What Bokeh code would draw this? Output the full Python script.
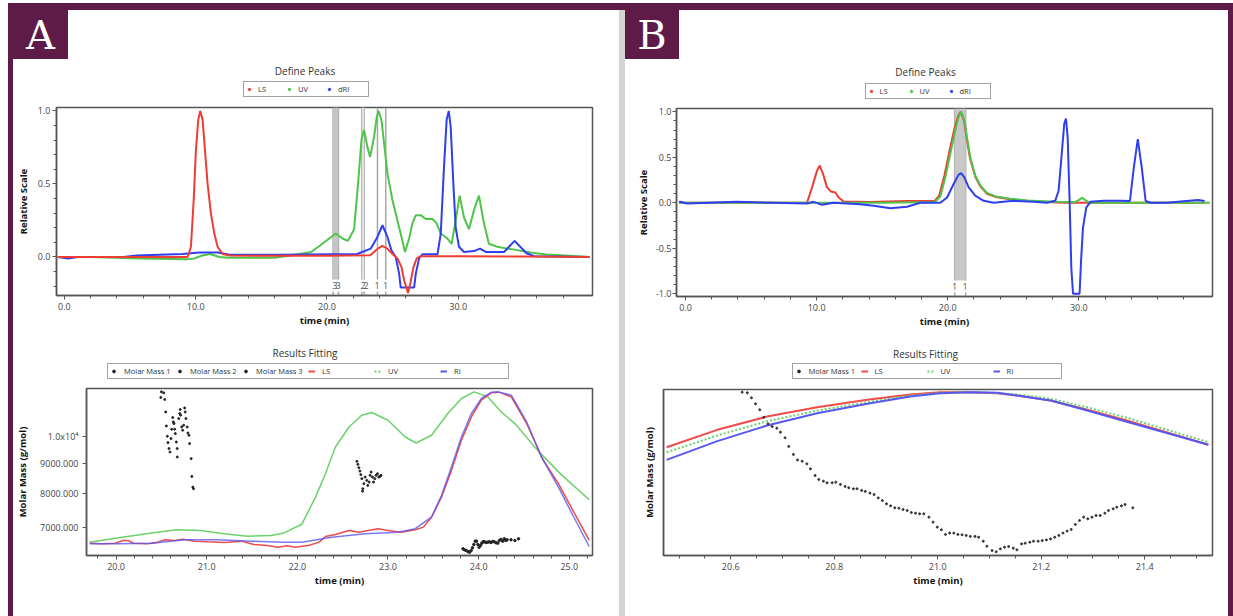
from bokeh.plotting import figure
from bokeh.layouts import column, row
from bokeh.models import (Spacer, Div, Legend, LegendItem, Label, BoxAnnotation,
                          FixedTicker, PrintfTickFormatter, Range1d)
from bokeh.embed import file_html
from bokeh.resources import INLINE

# ---------------- data: panel A, "Define Peaks" (relative scale) ----------------
lsA_t = [-0.5, 5.0, 9.0, 9.39, 9.64, 9.85, 10.02, 10.2, 10.35, 10.53, 10.71, 10.91, 11.16, 11.42, 11.67,
         12.05, 12.6, 16.0, 20.0, 23.3, 23.85, 24.23, 24.61, 24.99, 25.37, 25.68, 25.88, 26.18, 26.38,
         26.59, 26.84, 27.14, 30.0, 35.0, 40.0]
lsA_v = [0.0, 0.0, 0.0, 0.0, 0.07, 0.39, 0.73, 0.94, 1.0, 0.94, 0.73, 0.50, 0.30, 0.16, 0.07,
         0.02, 0.01, 0.008, 0.008, 0.012, 0.055, 0.075, 0.057, 0.02, -0.01, -0.07, -0.16, -0.247, -0.17,
         -0.07, -0.01, 0.005, 0.005, 0.003, 0.0]

driA_t = [-0.5, 0.3, 1.0, 4.5, 5.5, 9.0, 10.3, 11.7, 12.6, 16.3, 20.3, 22.3, 23.34, 23.85, 24.23,
          24.61, 24.91, 25.24, 25.5, 25.62, 26.64, 26.77, 27.02, 27.27, 28.42, 28.67, 28.92, 29.12,
          29.28, 29.43, 29.63, 29.81, 30.06, 30.44, 31.2, 31.66, 32.1, 33.49, 34.3, 35.2, 35.8, 40.0]
driA_v = [0.0, -0.01, 0.0, 0.0, 0.01, 0.02, 0.03, 0.03, 0.015, 0.015, 0.018, 0.02, 0.057, 0.137, 0.217,
          0.137, 0.046, 0.0, -0.114, -0.21, -0.21, -0.114, -0.01, 0.018, 0.018, 0.16, 0.62, 0.94,
          1.0, 0.89, 0.5, 0.2, 0.07, 0.034, 0.04, 0.057, 0.034, 0.034, 0.11, 0.025, 0.005, 0.0]

uvA_t = [-0.5, 2.0, 5.7, 9.4, 9.9, 10.5, 11.1, 11.8, 12.5, 16.0, 17.2, 18.8, 19.5, 20.17, 20.68,
         21.19, 21.6, 22.07, 22.37, 22.63, 22.83, 23.09, 23.29, 23.59, 23.8, 23.93, 24.15, 24.35, 24.61,
         24.99, 25.37, 25.68, 25.95, 26.26, 26.51, 26.77, 27.15, 27.53, 28.04, 28.36, 28.67, 29.18,
         29.5, 29.81, 30.11, 30.44, 30.82, 31.2, 31.58, 31.96, 32.34, 32.98, 33.74, 34.3, 35.5, 36.7,
         38.5, 40.0]
uvA_v = [0.0, 0.0, -0.01, -0.015, -0.01, 0.01, 0.02, 0.0, -0.005, -0.005, 0.01, 0.034, 0.08, 0.126, 0.16,
         0.126, 0.11, 0.19, 0.50, 0.80, 0.87, 0.75, 0.685, 0.82, 0.96, 1.0, 0.94, 0.78, 0.57,
         0.39, 0.25, 0.137, 0.034, 0.126, 0.23, 0.286, 0.286, 0.26, 0.26, 0.23, 0.16, 0.126,
         0.09, 0.25, 0.42, 0.27, 0.19, 0.32, 0.42, 0.23, 0.09, 0.07, 0.057, 0.05, 0.03, 0.016,
         0.008, 0.0]

peakA_times = [20.47, 20.88, 22.66, 22.83, 23.85, 24.48]
peakA_label_t = [20.60, 20.85, 22.76, 22.98, 23.82, 24.46]
peakA_labels = ["3", "3", "2", "2", "1", "1"]

# ---------------- data: panel A, "Results Fitting" (molar mass, g/mol) ----------------
lsAb_t = [19.71, 19.84, 19.99, 20.08, 20.13, 20.19, 20.35, 20.46, 20.54, 20.65, 20.74, 20.87, 21.01,
          21.2, 21.38, 21.52, 21.67, 21.78, 21.89, 21.98, 22.13, 22.24, 22.31, 22.42, 22.57, 22.68,
          22.78, 22.89, 23.0, 23.15, 23.3, 23.39, 23.48, 23.59, 23.7, 23.81, 23.92, 24.03, 24.14,
          24.23, 24.36, 24.53, 24.70, 24.88, 25.05, 25.22]
lsAb_m = [6591, 6575, 6591, 6661, 6661, 6591, 6575, 6617, 6679, 6661, 6695, 6643, 6627,
          6609, 6643, 6557, 6531, 6487, 6524, 6487, 6539, 6617, 6766, 6820, 6928, 6882,
          6928, 6975, 6928, 6882, 6947, 7019, 7297, 7896, 8771, 9871, 10818, 11554, 11891,
          11924, 11706, 10541, 9200, 8324, 7442, 6661]

riAb_t = [19.71, 20.02, 20.39, 20.76, 21.12, 21.49, 21.85, 22.05, 22.38, 22.75, 23.11, 23.3, 23.48,
          23.59, 23.7, 23.81, 23.92, 24.03, 24.14, 24.21, 24.36, 24.53, 24.70, 24.88, 25.05, 25.22]
riAb_m = [6575, 6575, 6591, 6679, 6679, 6643, 6617, 6617, 6748, 6838, 6882, 6975, 7297,
          7949, 8885, 10000, 10965, 11632, 11924, 11938, 11784, 10608, 9200, 8213, 7297, 6505]

uvAb_t = [19.71, 20.07, 20.41, 20.67, 20.93, 21.19, 21.45, 21.71, 21.84, 22.05, 22.2, 22.31, 22.42,
          22.57, 22.71, 22.82, 23.0, 23.19, 23.31, 23.48, 23.66, 23.81, 23.95, 24.1, 24.25, 24.40,
          24.66, 24.92, 25.22]
uvAb_m = [6617, 6748, 6865, 6947, 6928, 6838, 6774, 6793, 6850, 7100, 7896, 8658, 9614,
          10401, 10891, 11007, 10680, 10000, 9767, 10067, 10965, 11632, 11938, 11706, 11034, 10541,
          9450, 8600, 7815]

mm1_t = [20.500, 20.526, 20.493, 20.537, 20.548, 20.555, 20.566, 20.573, 20.584, 20.595, 20.606,
         20.614, 20.625, 20.632, 20.639, 20.647, 20.654, 20.665, 20.675, 20.675, 20.691, 20.702,
         20.708, 20.713, 20.724, 20.735, 20.746, 20.757, 20.763, 20.771, 20.785, 20.793, 20.804,
         20.811, 20.829, 20.836, 20.847, 20.855]
mm1_m = [11938, 11891, 11678, 11586, 11034, 10443, 10028, 9782, 9556, 9427, 9937,
         10308, 10793, 10608, 10541, 10308, 10135, 9805, 9556, 9243, 10750, 10965,
         11138, 10891, 10401, 10267, 10471, 11208, 11034, 10750, 10401, 10159, 10067,
         9743, 9185, 8566, 8213, 8162]

mm2_t = [22.657, 22.668, 22.679, 22.690, 22.700, 22.711, 22.722, 22.719, 22.734, 22.748, 22.766,
         22.777, 22.792, 22.803, 22.814, 22.829, 22.840, 22.854, 22.868, 22.884, 22.898, 22.912, 22.923]
mm2_m = [9088, 8981, 8864, 8747, 8625, 8490, 8162, 8084, 8324, 8543, 8433,
         8268, 8377, 8601, 8714, 8543, 8377, 8490, 8601, 8658, 8543, 8566, 8601]

mm3_t = [23.827, 23.844, 23.863, 23.882, 23.899, 23.918, 23.932, 23.947, 23.962, 23.976, 23.991,
         24.005, 24.020, 24.035, 24.049, 24.064, 24.082, 24.101, 24.118, 24.137, 24.156, 24.173,
         24.192, 24.211, 24.228, 24.247, 24.265, 24.283, 24.30, 24.314, 24.357, 24.40, 24.44]
mm3_m = [6446, 6421, 6403, 6378, 6360, 6403, 6472, 6557, 6643, 6643, 6557,
         6487, 6531, 6591, 6627, 6627, 6609, 6617, 6627, 6609, 6635, 6627,
         6601, 6591, 6661, 6688, 6643, 6705, 6661, 6679, 6679, 6661, 6705]

# ---------------- data: panel B, "Define Peaks" ----------------
lsB_t = [-0.5, 9.27, 9.65, 10.03, 10.23, 10.49, 10.79, 11.1, 11.43, 11.68, 12.06, 14.0, 16.9, 18.5,
         19.0, 19.35, 19.75, 20.12, 20.5, 20.78, 21.0, 21.25, 21.45, 21.7, 22.1, 22.49, 23.0, 23.76,
         24.78, 26.05, 27.3, 28.3, 29.0, 35.0, 39.5]
lsB_v = [0.0, 0.0, 0.17, 0.354, 0.41, 0.318, 0.17, 0.125, 0.114, 0.059, 0.014, 0.01, 0.02, 0.02,
         0.02, 0.08, 0.3, 0.56, 0.81, 0.95, 1.0, 0.9, 0.71, 0.49, 0.29, 0.18, 0.1, 0.06,
         0.04, 0.022, 0.012, 0.004, 0.0, 0.0, 0.0]

uvB_t = [-0.5, 15.0, 19.0, 19.44, 19.82, 20.2, 20.58, 20.83, 21.04, 21.27, 21.47, 21.72, 22.1, 22.49,
         23.0, 23.76, 24.78, 26.05, 27.3, 28.3, 29.7, 30.0, 30.25, 30.5, 30.8, 35.0, 40.0]
uvB_v = [0.0, 0.0, 0.01, 0.07, 0.28, 0.54, 0.80, 0.945, 1.0, 0.91, 0.72, 0.50, 0.30, 0.19,
         0.11, 0.066, 0.044, 0.026, 0.018, 0.011, 0.008, 0.03, 0.055, 0.03, 0.0, 0.0, 0.0]

driB_t = [-0.5, -0.4, 0.11, 3.93, 9.27, 9.77, 10.41, 11.3, 13.33, 14.35, 15.62, 16.9, 17.91, 19.44,
          19.95, 20.45, 20.83, 21.04, 21.27, 21.6, 22.1, 22.74, 23.5, 25.0, 26.55, 27.57, 28.2, 28.46,
          28.72, 28.89, 29.02, 29.15, 29.3, 29.43, 29.56, 30.06, 30.17, 30.32, 30.57, 30.88, 31.89,
          33.17, 33.9, 34.2, 34.5, 34.8, 35.1, 35.5, 36.7, 38.2, 39.1, 39.6]
driB_v = [0.01, 0.011, -0.008, 0.011, -0.008, 0.011, -0.022, 0.0, -0.015, -0.033, -0.059, -0.044, 0.0, 0.0,
          0.059, 0.207, 0.31, 0.325, 0.28, 0.17, 0.078, 0.022, 0.0, 0.022, 0.011, 0.0, 0.022, 0.133,
          0.576, 0.87, 0.927, 0.723, 0.022, -0.716, -1.0, -1.0, -0.642, -0.273, -0.052, 0.011, 0.022,
          0.022, 0.02, 0.39, 0.70, 0.39, 0.02, 0.0, 0.0, 0.02, 0.03, 0.02]

peakB_times = [20.53, 21.37]
peakB_label_t = [20.53, 21.33]
peakB_labels = ["1", "1"]

# ---------------- data: panel B, "Results Fitting" (relative molar-mass scale) ----------------
lsBb_t = [20.476, 20.574, 20.67, 20.767, 20.864, 20.947, 21.005, 21.057, 21.115, 21.153, 21.218, 21.282, 21.362, 21.523]
lsBb_v = [0.652, 0.757, 0.837, 0.893, 0.938, 0.97, 0.984, 0.984, 0.978, 0.964, 0.934, 0.884, 0.817, 0.667]
uvBb_t = [20.476, 20.574, 20.67, 20.767, 20.864, 20.947, 21.005, 21.089, 21.153, 21.218, 21.282, 21.362, 21.523]
uvBb_v = [0.622, 0.723, 0.809, 0.873, 0.923, 0.964, 0.98, 0.984, 0.97, 0.944, 0.898, 0.833, 0.683]
riBb_t = [20.476, 20.574, 20.67, 20.767, 20.864, 20.947, 21.005, 21.063, 21.115, 21.153, 21.218, 21.282, 21.362, 21.523]
riBb_v = [0.576, 0.689, 0.783, 0.857, 0.914, 0.958, 0.978, 0.984, 0.98, 0.964, 0.934, 0.88, 0.809, 0.667]

mmB_points = [
    (20.622, 0.984), (20.632, 0.980), (20.640, 0.950), (20.648, 0.914), (20.656, 0.878), (20.664, 0.833),
    (20.672, 0.793), (20.680, 0.777), (20.689, 0.767), (20.696, 0.743), (20.705, 0.709), (20.712, 0.657),
    (20.721, 0.609), (20.729, 0.576), (20.738, 0.568), (20.747, 0.552), (20.754, 0.522), (20.763, 0.482),
    (20.770, 0.458), (20.779, 0.448), (20.786, 0.438), (20.796, 0.438), (20.803, 0.442), (20.812, 0.428),
    (20.821, 0.416), (20.828, 0.408), (20.837, 0.402), (20.844, 0.402), (20.853, 0.392), (20.860, 0.386),
    (20.869, 0.376), (20.877, 0.367), (20.885, 0.347), (20.893, 0.331), (20.901, 0.311), (20.909, 0.299),
    (20.917, 0.287), (20.925, 0.285), (20.933, 0.277), (20.941, 0.271), (20.949, 0.259), (20.957, 0.255),
    (20.965, 0.251), (20.973, 0.251), (20.983, 0.231), (20.991, 0.201), (20.999, 0.171), (21.007, 0.155),
    (21.015, 0.127), (21.023, 0.135), (21.031, 0.135), (21.039, 0.127), (21.047, 0.125), (21.055, 0.121),
    (21.063, 0.115), (21.072, 0.115), (21.079, 0.110), (21.088, 0.086), (21.095, 0.056), (21.105, 0.030),
    (21.113, 0.022), (21.121, 0.040), (21.129, 0.050), (21.137, 0.054), (21.146, 0.044), (21.153, 0.034),
    (21.162, 0.070), (21.169, 0.074), (21.178, 0.080), (21.185, 0.086), (21.194, 0.086), (21.202, 0.090),
    (21.210, 0.094), (21.218, 0.100), (21.226, 0.110), (21.234, 0.121), (21.242, 0.135), (21.250, 0.147),
    (21.258, 0.157), (21.266, 0.187), (21.274, 0.211), (21.282, 0.231), (21.290, 0.221), (21.298, 0.231),
    (21.306, 0.241), (21.314, 0.241), (21.323, 0.255), (21.330, 0.271), (21.339, 0.281), (21.346, 0.291),
    (21.355, 0.299), (21.362, 0.307), (21.377, 0.287)]
mmB_t = [p[0] for p in mmB_points]
mmB_v = [p[1] for p in mmB_points]

# ---------------- styling ----------------
PURPLE = "#5e1b47"
SEP = "#d4d4d4"
FONT = "Open Sans"
RED, GREEN, BLUE = "#ef3d33", "#4ec449", "#2f3ff0"
RED2, GREEN2, BLUE2 = "#ef4b4b", "#6ad26a", "#5858f0"
AX = "#555555"
MARK = "#a8a8a8"


def make_fig(w, h, mbl, mbr, mbt, mbb, xr, yr, y_type="linear"):
    p = figure(width=w, height=h, x_range=Range1d(*xr), y_range=Range1d(*yr), y_axis_type=y_type,
               output_backend="svg", toolbar_location=None, title=None,
               min_border_left=mbl, min_border_right=mbr, min_border_top=mbt, min_border_bottom=mbb)
    p.grid.visible = False
    p.outline_line_color = AX
    p.outline_line_width = 1.5
    p.background_fill_color = "white"
    p.border_fill_color = "white"
    for ax in (p.xaxis[0], p.yaxis[0]):
        ax.axis_line_color = AX
        ax.axis_line_width = 1.5
        ax.major_tick_line_color = AX
        ax.minor_tick_line_color = AX
        ax.major_tick_in = 0
        ax.major_tick_out = 4
        ax.minor_tick_in = 0
        ax.minor_tick_out = 3
        ax.major_label_text_font = FONT
        ax.major_label_text_font_size = "9px"
        ax.major_label_text_color = "#444444"
        ax.axis_label_text_font = FONT
        ax.axis_label_text_font_size = "9.5px"
        ax.axis_label_text_font_style = "bold"
        ax.axis_label_text_color = "#111111"
    p.xaxis.axis_label = "time (min)"
    p.xaxis.major_label_standoff = 3
    p.xaxis.axis_label_standoff = 1
    return p


def make_header(w, h, title, tx, ty, spec, lx, ly, gw, standoff, lw):
    """A strip above a chart holding its centred title and its framed legend.
    The legend keys repeat the chart's series; the strip's x range lies far
    away from the data so those copies stay out of sight."""
    hf = figure(width=w, height=h, x_range=Range1d(-5000, -5000 + w), y_range=Range1d(0, h),
                output_backend="svg", toolbar_location=None, title=None,
                x_axis_location=None, y_axis_location=None,
                min_border_left=0, min_border_right=0, min_border_top=0, min_border_bottom=0)
    hf.grid.visible = False
    hf.outline_line_color = None
    hf.background_fill_color = "white"
    hf.border_fill_color = "white"
    items = []
    for label, kind, color, dash, xs, ys in spec:
        if kind == "dot":
            r = hf.scatter(xs, ys, size=3, color=color)
        else:
            r = hf.line(xs, ys, line_color=color, line_width=2, line_dash=dash)
        items.append(LegendItem(label=label, renderers=[r]))
    hf.add_layout(Label(x=tx, y=ty, x_units="screen", y_units="screen", text=title,
                        text_align="center", text_baseline="middle",
                        text_font=FONT, text_font_size="10px", text_color="#333333"))
    hf.add_layout(Legend(items=items, location=(lx, ly), orientation="horizontal",
                         glyph_width=gw, glyph_height=10, label_standoff=standoff,
                         label_width=lw, label_height=10, spacing=0, padding=2, margin=0,
                         label_text_font=FONT, label_text_font_size="7.5px", label_text_color="#333333",
                         border_line_color="#444444", border_line_width=1.5, background_fill_alpha=1.0))
    return hf


def add_peaks(p, times, label_t, labels, frame_h):
    """Peak limit markers: grey verticals with a small gap where the peak number sits."""
    y0, y1 = p.y_range.start, p.y_range.end
    upp = (y1 - y0) / frame_h
    gap_lo, gap_hi = y0 + 4 * upp, y0 + 16 * upp
    n = len(times)
    p.segment(x0=times, x1=times, y0=[gap_hi] * n, y1=[y1] * n, line_color=MARK, line_width=1.5, level="underlay")
    p.segment(x0=times, x1=times, y0=[y0] * n, y1=[gap_lo] * n, line_color=MARK, line_width=1.5, level="underlay")
    for t, lab in zip(label_t, labels):
        p.add_layout(Label(x=t, y=10, x_units="data", y_units="screen", text=lab,
                           text_align="center", text_baseline="middle", text_font=FONT,
                           text_font_size="9px", text_color="#555555"))
    return gap_hi


fmt1 = "%.1f"

# ---------------- A top ----------------
specA1 = [("LS", "dot", RED, "solid", lsA_t, lsA_v), ("UV", "dot", GREEN, "solid", uvA_t, uvA_v),
          ("dRI", "dot", BLUE, "solid", driA_t, driA_v)]
hA1 = make_header(606, 44, "Define Peaks", 291.5, 33, specA1, 230, 6, 6, 6, 28)
pA1 = make_fig(606, 232, 42, 27, 4, 40, (-0.6, 40.23), (-0.264, 1.023))
pA1.xaxis.ticker = FixedTicker(ticks=[0, 10, 20, 30], minor_ticks=list(range(0, 39, 2)))
pA1.xaxis.formatter = PrintfTickFormatter(format=fmt1)
pA1.yaxis.ticker = FixedTicker(ticks=[0, 0.5, 1.0], minor_ticks=[round(-0.2 + 0.1 * i, 1) for i in range(13)])
pA1.yaxis.formatter = PrintfTickFormatter(format=fmt1)
pA1.yaxis.axis_label = "Relative Scale"
pA1.yaxis.major_label_standoff = 2
pA1.yaxis.axis_label_standoff = 5
gapA = add_peaks(pA1, peakA_times, peakA_label_t, peakA_labels, 188)
pA1.add_layout(BoxAnnotation(left=peakA_times[0], right=peakA_times[1], bottom=gapA, fill_color="#c4c4c4",
                             fill_alpha=1.0, line_alpha=0, level="underlay"))
pA1.add_layout(BoxAnnotation(left=peakA_times[2], right=peakA_times[3], bottom=gapA, fill_color="#e0e0e0",
                             fill_alpha=1.0, line_alpha=0, level="underlay"))
pA1.line(uvA_t, uvA_v, line_color=GREEN, line_width=2)
pA1.line(driA_t, driA_v, line_color=BLUE, line_width=2)
pA1.line(lsA_t, lsA_v, line_color=RED, line_width=2)

# ---------------- A bottom ----------------
specA2 = [("Molar Mass 1", "dot", "#222222", "solid", mm1_t, mm1_m),
          ("Molar Mass 2", "dot", "#222222", "solid", mm2_t, mm2_m),
          ("Molar Mass 3", "dot", "#222222", "solid", mm3_t, mm3_m),
          ("LS", "line", RED2, "solid", lsAb_t, lsAb_m),
          ("UV", "line", GREEN2, "2 2", uvAb_t, uvAb_m),
          ("RI", "line", BLUE2, "solid", riAb_t, riAb_m)]
hA2 = make_header(606, 48, "Results Fitting", 291.5, 31, specA2, 94, 4, 7, 7, 52)
pA2 = make_fig(606, 233, 70, 27, 5, 61, (19.674, 25.256), (6279, 12097), y_type="log")
pA2.xaxis.ticker = FixedTicker(ticks=[20, 21, 22, 23, 24, 25],
                               minor_ticks=[round(19.8 + 0.2 * i, 1) for i in range(28)])
pA2.xaxis.formatter = PrintfTickFormatter(format=fmt1)
pA2.yaxis.ticker = FixedTicker(ticks=[7000, 8000, 9000, 10000], minor_ticks=[])
pA2.yaxis.formatter = PrintfTickFormatter(format="%.3f")
pA2.yaxis.major_label_overrides = {10000: "1.0x10\u2074"}
pA2.yaxis.axis_label = "Molar Mass (g/mol)"
pA2.yaxis.major_label_standoff = 4
pA2.yaxis.axis_label_standoff = 8
pA2.line(uvAb_t, uvAb_m, line_color=GREEN2, line_width=1.5)
pA2.line(lsAb_t, lsAb_m, line_color=RED2, line_width=1.5)
pA2.line(riAb_t, riAb_m, line_color=BLUE2, line_width=1.5, line_alpha=0.8)
pA2.scatter(mm1_t, mm1_m, size=2, color="#222222")
pA2.scatter(mm2_t, mm2_m, size=2, color="#222222")
pA2.scatter(mm3_t, mm3_m, size=2.5, color="#222222")

# ---------------- B top ----------------
specB1 = [("LS", "dot", RED, "solid", lsB_t, lsB_v), ("UV", "dot", GREEN, "solid", uvB_t, uvB_v),
          ("dRI", "dot", BLUE, "solid", driB_t, driB_v)]
hB1 = make_header(603, 44, "Define Peaks", 300, 31.5, specB1, 239.5, 4.5, 6, 6, 28)
pB1 = make_fig(603, 232, 51, 16, 5, 39, (-0.69, 40.2), (-1.03, 1.037))
pB1.xaxis.ticker = FixedTicker(ticks=[0, 10, 20, 30], minor_ticks=list(range(0, 39, 2)))
pB1.xaxis.formatter = PrintfTickFormatter(format=fmt1)
pB1.yaxis.ticker = FixedTicker(ticks=[-1.0, -0.5, 0, 0.5, 1.0],
                               minor_ticks=[round(-1.0 + 0.1 * i, 1) for i in range(21)])
pB1.yaxis.formatter = PrintfTickFormatter(format=fmt1)
pB1.yaxis.axis_label = "Relative Scale"
pB1.yaxis.major_label_standoff = 1
pB1.yaxis.axis_label_standoff = 3
gapB = add_peaks(pB1, peakB_times, peakB_label_t, peakB_labels, 188)
pB1.add_layout(BoxAnnotation(left=peakB_times[0], right=peakB_times[1], bottom=gapB, fill_color="#c8c8c8",
                             fill_alpha=1.0, line_alpha=0, level="underlay"))
pB1.line(lsB_t, lsB_v, line_color=RED, line_width=2)
pB1.line(uvB_t, uvB_v, line_color=GREEN, line_width=2)
pB1.line(driB_t, driB_v, line_color=BLUE, line_width=2)

# ---------------- B bottom ----------------
specB2 = [("Molar Mass 1", "dot", "#222222", "solid", mmB_t, mmB_v),
          ("LS", "line", RED2, "solid", lsBb_t, lsBb_v),
          ("UV", "line", GREEN2, "2 2", uvBb_t, uvBb_v),
          ("RI", "line", BLUE2, "solid", riBb_t, riBb_v)]
hB2 = make_header(603, 48, "Results Fitting", 300, 30, specB2, 166.5, 4, 7, 7, 52)
pB2 = make_fig(603, 233, 38, 16, 6, 61, (20.47, 21.531), (0, 1))
pB2.xaxis.ticker = FixedTicker(ticks=[20.6, 20.8, 21.0, 21.2, 21.4],
                               minor_ticks=[round(20.5 + 0.05 * i, 2) for i in range(21)])
pB2.xaxis.formatter = PrintfTickFormatter(format=fmt1)
pB2.yaxis.ticker = FixedTicker(ticks=[], minor_ticks=[])
pB2.yaxis.major_tick_out = 0
pB2.yaxis.minor_tick_out = 0
pB2.yaxis.major_label_standoff = 0
pB2.yaxis.axis_label = "Molar Mass (g/mol)"
pB2.yaxis.axis_label_standoff = 8
pB2.line(lsBb_t, lsBb_v, line_color=RED2, line_width=2)
pB2.line(uvBb_t, uvBb_v, line_color=GREEN2, line_width=2, line_dash="2 2")
pB2.line(riBb_t, riBb_v, line_color=BLUE2, line_width=2)
pB2.scatter(mmB_t, mmB_v, size=2, color="#333333")

# ---------------- frame / layout ----------------
def letter_box(letter, w):
    html = ('<div style="width:%dpx;height:49px;display:flex;align-items:center;justify-content:center;'
            'color:white;font-family:\'DejaVu Serif\';font-size:40px;line-height:1;">%s</div>' % (w, letter))
    return Div(text=html, width=w, height=49, margin=0, styles={"background-color": PURPLE})


def bar(w, h, color):
    return Spacer(width=w, height=h, styles={"background-color": color})


panelA = column(row(letter_box("A", 55), bar(551, 49, "white")), row(hA1), row(pA1), row(hA2), row(pA2))
panelB = column(row(letter_box("B", 54), bar(549, 49, "white")), row(hB1), row(pB1), row(hB2), row(pB2))
body = row(bar(5, 606, PURPLE), panelA, bar(6, 606, SEP), panelB, bar(5, 606, PURPLE))
inner = column(bar(1225, 7, PURPLE), body)
root = column(bar(1233, 3, "white"), row(bar(8, 613, "white"), inner))

open("out.html", "w").write(file_html(root, INLINE))
